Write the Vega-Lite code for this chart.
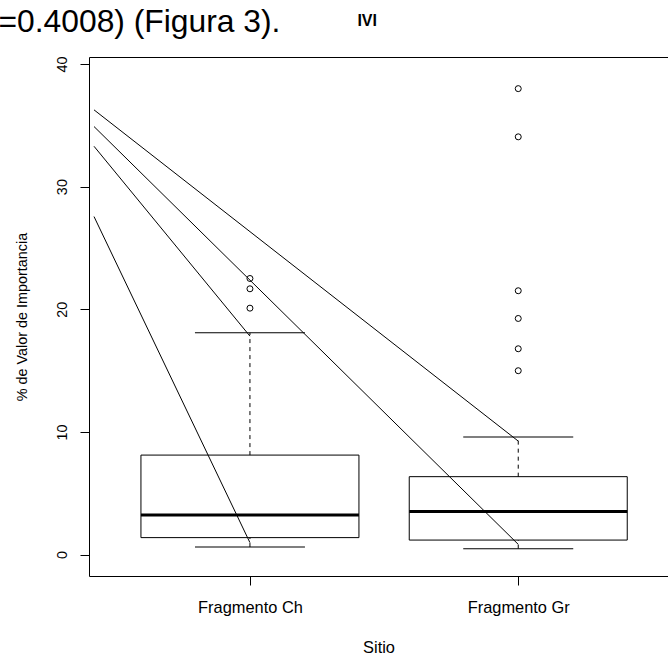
{
  "$schema": "https://vega.github.io/schema/vega-lite/v6.json",
  "width": 579,
  "height": 519,
  "autosize": {"type": "none"},
  "padding": {"left": 89, "top": 57, "right": 0, "bottom": 80},
  "background": "white",
  "config": {
    "view": {"stroke": null},
    "font": "Liberation Sans",
    "axis": {
      "grid": false,
      "domainColor": "black",
      "tickColor": "black",
      "labelColor": "black",
      "titleColor": "black",
      "labelFont": "Liberation Sans",
      "titleFont": "Liberation Sans",
      "titleFontWeight": "normal",
      "domainWidth": 1,
      "tickWidth": 1
    }
  },
  "datasets": {
    "boxes": [
      {"sitio": "Fragmento Ch", "pos": 1, "lo": 0.61, "q1": 1.38, "med": 3.22, "q3": 8.11, "hi": 18.08},
      {"sitio": "Fragmento Gr", "pos": 2, "lo": 0.48, "q1": 1.18, "med": 3.5, "q3": 6.35, "hi": 9.58}
    ],
    "outliers": [
      {"sitio": "Fragmento Ch", "pos": 1, "valor": 22.51},
      {"sitio": "Fragmento Ch", "pos": 1, "valor": 21.67},
      {"sitio": "Fragmento Ch", "pos": 1, "valor": 20.09},
      {"sitio": "Fragmento Gr", "pos": 2, "valor": 37.99},
      {"sitio": "Fragmento Gr", "pos": 2, "valor": 34.06},
      {"sitio": "Fragmento Gr", "pos": 2, "valor": 21.51},
      {"sitio": "Fragmento Gr", "pos": 2, "valor": 19.25},
      {"sitio": "Fragmento Gr", "pos": 2, "valor": 16.78},
      {"sitio": "Fragmento Gr", "pos": 2, "valor": 14.99}
    ],
    "lines": [
      {"id": "a", "x": 0.4187, "y": 36.26},
      {"id": "a", "x": 2, "y": 9.25},
      {"id": "b", "x": 0.4187, "y": 34.9},
      {"id": "b", "x": 2, "y": 0.83},
      {"id": "c", "x": 0.4187, "y": 33.29},
      {"id": "c", "x": 1, "y": 17.81},
      {"id": "d", "x": 0.4187, "y": 27.56},
      {"id": "d", "x": 1, "y": 0.97}
    ]
  },
  "resolve": {"axis": {"x": "independent", "y": "independent"}},
  "layer": [
    {
      "data": {"name": "boxes"},
      "mark": {"type": "bar", "size": 218, "fill": "white", "stroke": "black", "strokeWidth": 1},
      "encoding": {
        "x": {
          "field": "pos",
          "type": "quantitative",
          "scale": {"domain": [0.4187, 2.5396], "nice": false, "zero": false},
          "axis": {
            "orient": "bottom",
            "values": [1, 2],
            "labelExpr": "datum.value == 1 ? 'Fragmento Ch' : 'Fragmento Gr'",
            "tickSize": 9,
            "labelFontSize": 16.4,
            "labelPadding": 27.6,
            "labelBaseline": "alphabetic",
            "labelFlush": false,
            "labelOverlap": false,
            "title": "Sitio",
            "titleFontSize": 16.4,
            "titleY": 76.3,
            "titleBaseline": "alphabetic"
          }
        },
        "y": {
          "field": "q1",
          "type": "quantitative",
          "scale": {"domain": [-1.75, 40.57], "nice": false, "zero": false},
          "axis": {
            "orient": "left",
            "values": [0, 10, 20, 30, 40],
            "tickSize": 9,
            "labelAngle": -90,
            "labelAlign": "center",
            "labelBaseline": "alphabetic",
            "labelPadding": 13.3,
            "labelFontSize": 14.4,
            "labelOverlap": false,
            "labelFlush": false,
            "title": "% de Valor de Importancia",
            "titleFontSize": 14.4,
            "titleAngle": -90,
            "titleX": -63,
            "titleY": 259.5,
            "titleAlign": "center",
            "titleBaseline": "alphabetic"
          }
        },
        "y2": {"field": "q3"}
      }
    },
    {
      "data": {"name": "boxes"},
      "mark": {"type": "rule", "color": "black", "strokeWidth": 1, "strokeDash": [4, 4]},
      "encoding": {
        "x": {"field": "pos", "type": "quantitative", "axis": null},
        "y": {"field": "q3", "type": "quantitative", "axis": null},
        "y2": {"field": "hi"}
      }
    },
    {
      "data": {"name": "boxes"},
      "mark": {"type": "rule", "color": "black", "strokeWidth": 1, "strokeDash": [4, 4]},
      "encoding": {
        "x": {"field": "pos", "type": "quantitative", "axis": null},
        "y": {"field": "lo", "type": "quantitative", "axis": null},
        "y2": {"field": "q1"}
      }
    },
    {
      "data": {"name": "boxes"},
      "mark": {"type": "tick", "orient": "horizontal", "size": 110, "thickness": 1, "color": "black", "opacity": 1},
      "encoding": {
        "x": {"field": "pos", "type": "quantitative", "axis": null},
        "y": {"field": "hi", "type": "quantitative", "axis": null}
      }
    },
    {
      "data": {"name": "boxes"},
      "mark": {"type": "tick", "orient": "horizontal", "size": 110, "thickness": 1, "color": "black", "opacity": 1},
      "encoding": {
        "x": {"field": "pos", "type": "quantitative", "axis": null},
        "y": {"field": "lo", "type": "quantitative", "axis": null}
      }
    },
    {
      "data": {"name": "boxes"},
      "mark": {"type": "tick", "orient": "horizontal", "size": 218, "thickness": 3, "color": "black", "opacity": 1},
      "encoding": {
        "x": {"field": "pos", "type": "quantitative", "axis": null},
        "y": {"field": "med", "type": "quantitative", "axis": null}
      }
    },
    {
      "data": {"name": "outliers"},
      "mark": {"type": "point", "shape": "circle", "filled": false, "size": 36, "color": "black", "strokeWidth": 1, "opacity": 1},
      "encoding": {
        "x": {"field": "pos", "type": "quantitative", "axis": null},
        "y": {"field": "valor", "type": "quantitative", "axis": null}
      }
    },
    {
      "data": {"name": "lines"},
      "mark": {"type": "line", "color": "black", "strokeWidth": 1},
      "encoding": {
        "x": {
          "field": "x",
          "type": "quantitative",
          "axis": {"orient": "top", "ticks": false, "labels": false, "title": null, "domain": true}
        },
        "y": {"field": "y", "type": "quantitative", "axis": null},
        "detail": {"field": "id"}
      }
    },
    {
      "data": {"values": [{"txt": "IVI"}]},
      "mark": {"type": "text", "fontSize": 16, "fontWeight": "bold", "font": "Liberation Sans", "align": "center", "baseline": "middle", "color": "black"},
      "encoding": {
        "x": {"datum": 1.437, "type": "quantitative", "axis": null},
        "y": {"datum": 43.53, "type": "quantitative", "axis": null},
        "text": {"field": "txt"}
      }
    },
    {
      "data": {"values": [{"txt": "=0.4008) (Figura 3)."}]},
      "mark": {"type": "text", "fontSize": 31.8, "font": "Liberation Sans", "align": "left", "baseline": "alphabetic", "color": "black"},
      "encoding": {
        "x": {"datum": 0.0627, "type": "quantitative", "axis": null},
        "y": {"datum": 42.63, "type": "quantitative", "axis": null},
        "text": {"field": "txt"}
      }
    }
  ]
}
